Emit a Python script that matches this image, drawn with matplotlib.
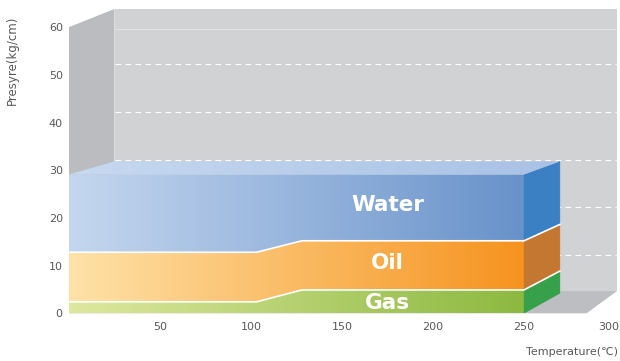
import numpy as np
import matplotlib
matplotlib.use("Agg")
import matplotlib.pyplot as plt
from matplotlib.patches import Polygon
from matplotlib.colors import to_rgb
from matplotlib.transforms import ScaledTranslation

# ---- data -------------------------------------------------------------
temperature = [0, 103, 128, 250]          # deg C
gas = [2.4, 2.4, 4.9, 4.9]                # layer thickness, kg/cm
oil = [10.4, 10.4, 10.3, 10.3]
water = [16.3, 16.3, 13.9, 13.9]
layer_names = ["Gas", "Oil", "Water"]
x_ticks = [50, 100, 150, 200, 250, 300]
y_ticks = [0, 10, 20, 30, 40, 50, 60]

# ---- styles -----------------------------------------------------------
front_grad = {"Gas": ("#dee89f", "#8cb940"),
              "Oil": ("#fee2a8", "#f6931f"),
              "Water": ("#c5d7ef", "#6892ca")}
side_color = {"Gas": "#36a04a", "Oil": "#c47731", "Water": "#3b80c3"}
top_grad = ("#c7d9f0", "#a8c1e6")
label_pos = {"Gas": (175, 0.95), "Oil": (175, 9.3), "Water": (175, 21.45)}
back_wall_color = "#d1d2d4"
side_wall_color = "#bbbcbf"
floor_color = "#bdbec1"
tick_color = "#595959"

# box (walls / floor) geometry in data units
WALL_T, WALL_P, WALL_TOP, WALL_RIGHT, FLOOR_FRONT_RIGHT = 25.0, 4.67, 63.8, 301.1, 284.4


def depth(t, p):
    """Project a point on the front plane of the stack to its back plane."""
    return 25.0 + 0.979 * t, 4.2 + 0.95 * p


def gradient_polygon(ax, verts, c0, c1, x0, x1, z):
    poly = Polygon(verts, closed=True, facecolor="none", edgecolor="none")
    ax.add_patch(poly)
    c0 = np.array(to_rgb(c0))
    c1 = np.array(to_rgb(c1))
    f = np.linspace(0, 1, 256)[None, :, None]
    img = c0 + (c1 - c0) * f
    ys = [v[1] for v in verts]
    im = ax.imshow(img, extent=[x0, x1, min(ys) - 0.05, max(ys) + 0.05],
                   aspect="auto", origin="lower", interpolation="bilinear",
                   zorder=z)
    im.set_clip_path(poly)
    return im


fig = plt.figure(figsize=(6.2, 3.61), dpi=100)
ax = fig.add_axes([69 / 620, (361 - 313.3) / 361, 546 / 620, 286.2 / 361])
ax.set_facecolor("none")
for s in ax.spines.values():
    s.set_visible(False)

# ---- box: back wall, side wall, floor ---------------------------------
ax.add_patch(Polygon([(WALL_T, WALL_P), (WALL_RIGHT, WALL_P),
                      (WALL_RIGHT, WALL_TOP), (WALL_T, WALL_TOP)],
                     closed=True, facecolor=back_wall_color, edgecolor="none",
                     zorder=0.5, clip_on=False))
ax.add_patch(Polygon([(0, 0), (0, 60), (WALL_T, WALL_TOP), (WALL_T, WALL_P)],
                     closed=True, facecolor=side_wall_color, edgecolor="none",
                     zorder=0.6, clip_on=False))
ax.add_patch(Polygon([(0, 0), (FLOOR_FRONT_RIGHT, 0), (WALL_RIGHT, WALL_P),
                      (WALL_T, WALL_P)],
                     closed=True, facecolor=floor_color, edgecolor="none",
                     zorder=0.7, clip_on=False))

# grid lines on the back wall
ax.plot([WALL_T, WALL_RIGHT], [59.7, 59.7], color="#e2e3e5", lw=0.8,
        zorder=0.8, clip_on=False)
for v in y_ticks[1:-1]:
    ax.plot([WALL_T + 0.5, WALL_RIGHT], [v + 2.2, v + 2.2], color="white",
            lw=0.8, dashes=(5, 4), zorder=0.8, clip_on=False)

# ---- stacked layers ---------------------------------------------------
t = np.array(temperature, dtype=float)
layers = [np.array(gas), np.array(oil), np.array(water)]
bottoms = np.vstack([np.zeros_like(t)] + list(np.cumsum(layers, axis=0)[:-1]))
tops = np.cumsum(layers, axis=0)

for name, lo, hi in zip(layer_names, bottoms, tops):
    verts = list(zip(t, hi)) + list(zip(t[::-1], lo[::-1]))
    c0, c1 = front_grad[name]
    gradient_polygon(ax, verts, c0, c1, t[0], t[-1], 2)
    # right side face
    b_lo = depth(t[-1], lo[-1])
    b_hi = depth(t[-1], hi[-1])
    ax.add_patch(Polygon([(t[-1], lo[-1]), (t[-1], hi[-1]), b_hi, b_lo],
                         closed=True, facecolor=side_color[name],
                         edgecolor=side_color[name], lw=0.3, zorder=2))

# top face of the stack
top_val = tops[-1]
bl = depth(t[0], top_val[0])
br = depth(t[-1], top_val[-1])
gradient_polygon(ax, [(t[0], top_val[0]), (t[-1], top_val[-1]), br, bl],
                 top_grad[0], top_grad[1], t[0], br[0], 2)

# white separators between layers
for hi in tops[:-1]:
    ax.plot(t, hi, color="white", lw=1.2, zorder=3, solid_capstyle="butt")
    b = depth(t[-1], hi[-1])
    ax.plot([t[-1], b[0]], [hi[-1], b[1]], color="white", lw=1.2, zorder=3)

# layer names
for name in layer_names:
    x, y = label_pos[name]
    ax.text(x, y, name, ha="center", va="baseline", color="white",
            fontsize=15.5, fontweight="bold", zorder=4)

# ---- axes -------------------------------------------------------------
ax.set_xlim(0, 300)
ax.set_ylim(0, 60)
ax.set_xticks(x_ticks)
ax.set_yticks(y_ticks)
ax.tick_params(axis="both", length=0, labelsize=8, labelcolor=tick_color)
ax.tick_params(axis="x", pad=6.5)
ax.tick_params(axis="y", pad=4.5)

# keep the last x tick label inside the figure edge
last = ax.get_xticklabels()[-1]
last.set_transform(last.get_transform()
                   + ScaledTranslation(-6 / 100, 0, fig.dpi_scale_trans))

fig.text(12 / 620, 1 - 60 / 361, "Presyre(kg/cm)", rotation=90,
         ha="center", va="center", fontsize=8.5, color=tick_color)
fig.text(618 / 620, 1 - 352 / 361, "Temperature(\u2103)", ha="right",
         va="center", fontsize=8, color=tick_color)

fig.savefig("out.png", dpi=100)
